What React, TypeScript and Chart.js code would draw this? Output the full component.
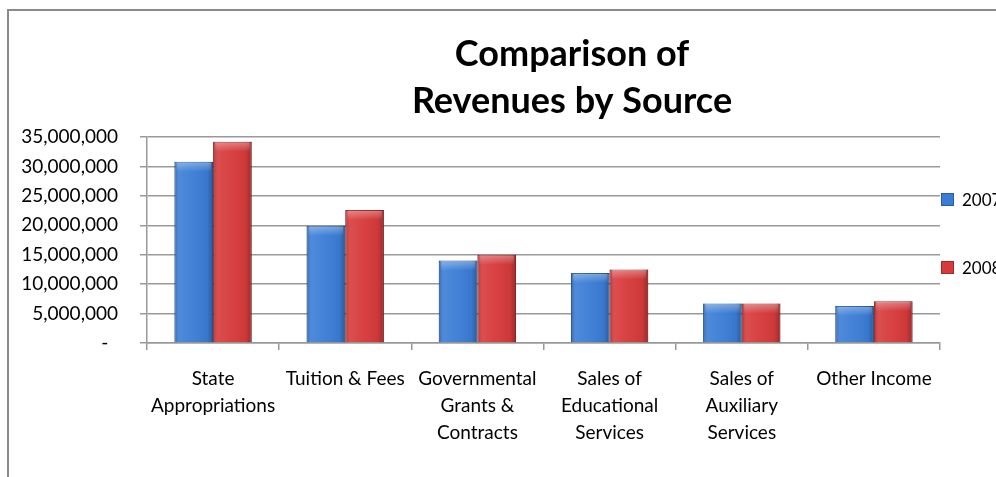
import React, { useEffect, useRef } from "react";
import { Chart, registerables } from "chart.js";

Chart.register(...registerables);

const TITLE_LINES = ["Comparison of", "Revenues by Source"];
const CATEGORIES: string[][] = [
  ["State", "Appropriations"],
  ["Tuition & Fees"],
  ["Governmental", "Grants &", "Contracts"],
  ["Sales of", "Educational", "Services"],
  ["Sales of", "Auxiliary", "Services"],
  ["Other Income"],
];
const SERIES_NAMES = ["2007", "2008"];
const VALUES_2007 = [30800000, 19900000, 14000000, 11900000, 6700000, 6300000];
const VALUES_2008 = [34200000, 22600000, 15000000, 12500000, 6700000, 7100000];
const Y_MIN = 0;
const Y_MAX = 35000000;
const Y_STEP = 5000000;

const FONT = "Lato, 'Open Sans', sans-serif";
const BLUE = "#3b7dd6";
const RED = "#d73a3b";
const BLUE_EDGE = "#2b5c9f";
const RED_EDGE = "#9e2a2a";

const framePlugin = {
  id: "frame",
  beforeDraw(chart: any) {
    const ctx = chart.ctx;
    ctx.save();
    ctx.fillStyle = "#ffffff";
    ctx.fillRect(0, 0, chart.width, chart.height);
    ctx.strokeStyle = "#8a8a8a";
    ctx.lineWidth = 2;
    ctx.beginPath();
    ctx.moveTo(8, chart.height + 2);
    ctx.lineTo(8, 10);
    ctx.lineTo(chart.width + 2, 10);
    ctx.stroke();
    ctx.restore();
  },
};

const titlePlugin = {
  id: "titleLines",
  afterDraw(chart: any) {
    const ctx = chart.ctx;
    ctx.save();
    ctx.fillStyle = "#000";
    ctx.font = `bold 36px ${FONT}`;
    ctx.textAlign = "center";
    ctx.textBaseline = "alphabetic";
    TITLE_LINES.forEach((line, i) => {
      ctx.fillText(line, 572, 66 + i * 47);
    });
    ctx.restore();
  },
};

const barShadePlugin = {
  id: "barShade",
  afterDatasetsDraw(chart: any) {
    const ctx = chart.ctx;
    ctx.save();
    chart.data.datasets.forEach((_: any, di: number) => {
      const meta = chart.getDatasetMeta(di);
      meta.data.forEach((bar: any) => {
        const { x, y, base, width } = bar.getProps(["x", "y", "base", "width"], true);
        const left = x - width / 2;
        const g = ctx.createLinearGradient(left, 0, left + width, 0);
        g.addColorStop(0, "rgba(0,0,0,0.22)");
        g.addColorStop(0.12, "rgba(255,255,255,0.10)");
        g.addColorStop(0.45, "rgba(255,255,255,0.04)");
        g.addColorStop(0.85, "rgba(0,0,0,0.05)");
        g.addColorStop(1, "rgba(0,0,0,0.28)");
        ctx.fillStyle = g;
        ctx.fillRect(left, y, width, base - y);
        const h = ctx.createLinearGradient(0, y, 0, y + 10);
        h.addColorStop(0, "rgba(255,255,255,0.35)");
        h.addColorStop(1, "rgba(255,255,255,0)");
        ctx.fillStyle = h;
        ctx.fillRect(left + 2, y + 1, width - 4, 10);
      });
    });
    ctx.restore();
  },
};

const legendPlugin = {
  id: "customLegend",
  afterDraw(chart: any) {
    const ctx = chart.ctx;
    const area = chart.chartArea;
    ctx.save();
    ctx.font = `17px ${FONT}`;
    ctx.textBaseline = "middle";
    ctx.textAlign = "left";
    chart.data.datasets.forEach((ds: any, i: number) => {
      const cy = 199.5 + i * 68;
      const bx = area.right + 1;
      ctx.fillStyle = ds.backgroundColor;
      ctx.fillRect(bx, cy - 6.5, 13, 13);
      ctx.strokeStyle = ds.borderColor;
      ctx.lineWidth = 1;
      ctx.strokeRect(bx + 0.5, cy - 6, 12, 12);
      ctx.fillStyle = "#000";
      ctx.fillText(ds.label, bx + 21, cy + 1);
    });
    ctx.restore();
  },
};

function fmt(v: number): string {
  if (v === 0) return "-  ";
  return v.toLocaleString("en-US");
}

export default function App() {
  const ref = useRef<HTMLCanvasElement | null>(null);
  useEffect(() => {
    if (!ref.current) return;
    const chart = new Chart(ref.current, {
      type: "bar",
      data: {
        labels: CATEGORIES,
        datasets: [
          {
            label: SERIES_NAMES[0],
            data: VALUES_2007,
            backgroundColor: BLUE,
            borderColor: BLUE_EDGE,
            borderWidth: 1,
            categoryPercentage: 0.585,
            barPercentage: 1,
          },
          {
            label: SERIES_NAMES[1],
            data: VALUES_2008,
            backgroundColor: RED,
            borderColor: RED_EDGE,
            borderWidth: 1,
            categoryPercentage: 0.585,
            barPercentage: 1,
          },
        ],
      },
      options: {
        animation: false,
        responsive: true,
        maintainAspectRatio: false,
        layout: { padding: { top: 137, right: 56, left: 0, bottom: 0 } },
        plugins: {
          legend: { display: false },
          title: { display: false },
          tooltip: { enabled: false },
        },
        scales: {
          x: {
            grid: {
              offset: true,
              drawOnChartArea: false,
              drawTicks: true,
              tickLength: 7,
              color: "#999",
              lineWidth: 1.5,
            },
            border: { display: true, color: "#999", width: 1.5 },
            ticks: {
              color: "#000",
              font: { family: FONT, size: 19, lineHeight: 1.4 },
              padding: 16,
              maxRotation: 0,
              autoSkip: false,
            },
            afterFit(scale: any) {
              scale.height = 134;
            },
          },
          y: {
            min: Y_MIN,
            max: Y_MAX,
            grid: {
              color: "#999",
              lineWidth: 1.5,
              drawTicks: true,
              tickLength: 7,
            },
            border: { display: true, color: "#999", width: 1.5 },
            ticks: {
              stepSize: Y_STEP,
              color: "#000",
              font: { family: FONT, size: 19 },
              padding: 22,
              callback: (v: any) => fmt(Number(v)),
            },
            afterFit(scale: any) {
              scale.width = 147;
            },
          },
        },
      },
      plugins: [framePlugin, barShadePlugin, titlePlugin, legendPlugin],
    });
    return () => chart.destroy();
  }, []);
  return (
    <div style={{ position: "fixed", left: 0, top: 0, width: 996, height: 477, background: "#fff" }}>
      <canvas ref={ref} />
    </div>
  );
}
